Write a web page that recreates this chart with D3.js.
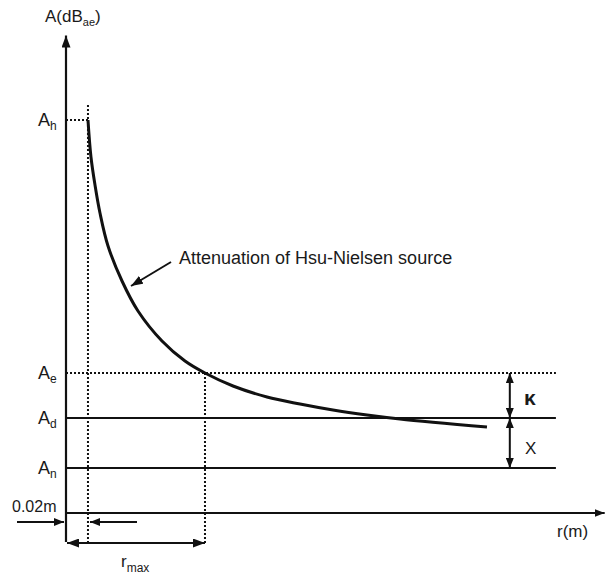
<!DOCTYPE html>
<html>
<head>
<meta charset="utf-8">
<script src="https://cdn.jsdelivr.net/npm/d3@7/dist/d3.min.js"></script>
<style>
  html, body { margin: 0; padding: 0; background: #fff; }
  svg text { font-family: "Liberation Sans", Arial, Helvetica, sans-serif; fill: #1a1a1a; }
</style>
</head>
<body>
<svg id="chart" width="605" height="577"></svg>
<script>
// Attenuation curve of a Hsu-Nielsen source: distance r (m, schematic) vs amplitude A (dB)
const curveR = [0.41, 0.466, 0.541, 0.634, 0.784, 1.045, 1.343, 1.791, 2.22, 2.593, 3.116, 3.75, 4.366, 4.981, 5.616, 6.231, 7.854];
const curveA = [78.6, 71.2, 65.6, 60.0, 53.4, 46.4, 40.4, 34.4, 30.4, 28.0, 25.4, 23.2, 21.8, 20.6, 19.6, 18.8, 17.2];

// Reference amplitude levels
const levelKeys   = ["h", "e", "d", "n"];
const levelValues = [78.6, 28.0, 19.0, 9.0];
const levelStyles = ["dotted", "dotted", "solid", "solid"];

// Distances
const rSource  = 0.41;   // 0.02 m from the sensor
const rMax     = 2.593;  // where the curve meets A_e
const rLineEnd = 9.14;   // end of the level lines
const rBrace   = 8.28;   // position of the κ / X dimension arrows

const svg = d3.select("#chart");
const x = d3.scaleLinear().domain([0, 10]).range([66, 602]);
const y = d3.scaleLinear().domain([0, 96]).range([513, 33]);

const ink = "#111";
const defs = svg.append("defs");
function marker(id, len, half) {
  defs.append("marker")
    .attr("id", id).attr("viewBox", `0 ${-half} ${len} ${half * 2}`)
    .attr("refX", len).attr("refY", 0)
    .attr("markerWidth", len).attr("markerHeight", half * 2)
    .attr("markerUnits", "userSpaceOnUse")
    .attr("orient", "auto-start-reverse")
    .append("path").attr("d", `M0,${-half}L${len},0L0,${half}Z`).attr("fill", ink);
}
marker("head", 12, 4.5);
marker("small", 10, 4);

const dots = "2,2";

// Axes
svg.append("line")
  .attr("x1", x(0)).attr("x2", x(0)).attr("y1", 542).attr("y2", y(95.5))
  .attr("stroke", ink).attr("stroke-width", 2.2).attr("marker-end", "url(#head)");
svg.append("line")
  .attr("x1", x(0)).attr("x2", x(10.05)).attr("y1", y(0)).attr("y2", y(0))
  .attr("stroke", ink).attr("stroke-width", 2.2).attr("marker-end", "url(#small)");

// Level lines
levelKeys.forEach((k, i) => {
  const xEnd = k === "h" ? x(rSource) : x(rLineEnd);
  svg.append("line")
    .attr("x1", x(0)).attr("x2", xEnd)
    .attr("y1", y(levelValues[i])).attr("y2", y(levelValues[i]))
    .attr("stroke", ink).attr("stroke-width", 2)
    .attr("stroke-dasharray", levelStyles[i] === "dotted" ? dots : null);
  const t = svg.append("text")
    .attr("x", 38).attr("y", y(levelValues[i]) + 6)
    .attr("font-size", 18);
  t.append("tspan").text("A");
  t.append("tspan").attr("font-size", 12).attr("dy", 4).text(k);
});

// Vertical guides at the source distance and r_max
svg.append("line")
  .attr("x1", x(rSource)).attr("x2", x(rSource)).attr("y1", y(81.6)).attr("y2", 543)
  .attr("stroke", ink).attr("stroke-width", 2).attr("stroke-dasharray", dots);
svg.append("line")
  .attr("x1", x(rMax)).attr("x2", x(rMax)).attr("y1", y(28)).attr("y2", 543)
  .attr("stroke", ink).attr("stroke-width", 2).attr("stroke-dasharray", dots);

// Attenuation curve
const pts = curveR.map((r, i) => [r, curveA[i]]);
svg.append("path")
  .datum(pts)
  .attr("fill", "none").attr("stroke", ink).attr("stroke-width", 3)
  .attr("d", d3.line().x(d => x(d[0])).y(d => y(d[1])).curve(d3.curveCatmullRom.alpha(0.5)));

// Curve annotation
svg.append("line")
  .attr("x1", 171).attr("y1", 262).attr("x2", 131).attr("y2", 286)
  .attr("stroke", ink).attr("stroke-width", 2).attr("marker-end", "url(#head)");
svg.append("text").attr("x", 179).attr("y", 264).attr("font-size", 18)
  .text("Attenuation of Hsu-Nielsen source");

// κ and X dimension arrows
[[levelValues[1], levelValues[2]], [levelValues[2], levelValues[3]]].forEach(([a, b]) => {
  svg.append("line")
    .attr("x1", x(rBrace)).attr("x2", x(rBrace)).attr("y1", y(a)).attr("y2", y(b))
    .attr("stroke", ink).attr("stroke-width", 2)
    .attr("marker-start", "url(#small)").attr("marker-end", "url(#small)");
});
svg.append("text").attr("x", 524).attr("y", 405).attr("font-size", 21).attr("font-weight", "bold").text("κ");
svg.append("text").attr("x", 525).attr("y", 454).attr("font-size", 17).text("X");

// r_max dimension arrow
svg.append("line")
  .attr("x1", x(0) + 1).attr("x2", x(rMax)).attr("y1", 543).attr("y2", 543)
  .attr("stroke", ink).attr("stroke-width", 2)
  .attr("marker-start", "url(#head)").attr("marker-end", "url(#head)");
const rm = svg.append("text").attr("x", 121).attr("y", 567).attr("font-size", 17);
rm.append("tspan").text("r");
rm.append("tspan").attr("font-size", 12).attr("dy", 5).text("max");

// 0.02 m offset arrows
svg.append("line").attr("x1", 17).attr("x2", x(0) - 2).attr("y1", 522).attr("y2", 522)
  .attr("stroke", ink).attr("stroke-width", 2).attr("marker-end", "url(#small)");
svg.append("line").attr("x1", 137).attr("x2", x(rSource) + 2).attr("y1", 522).attr("y2", 522)
  .attr("stroke", ink).attr("stroke-width", 2).attr("marker-end", "url(#small)");
svg.append("text").attr("x", 12).attr("y", 512).attr("font-size", 16).text("0.02m");

// Axis titles
svg.append("text").attr("x", 557).attr("y", 537).attr("font-size", 17).text("r(m)");
const yt = svg.append("text").attr("x", 45).attr("y", 22).attr("font-size", 17);
yt.append("tspan").text("A(dB");
yt.append("tspan").attr("font-size", 11).attr("dy", 4).text("ae");
yt.append("tspan").attr("dy", -4).text(")");
</script>
</body>
</html>
